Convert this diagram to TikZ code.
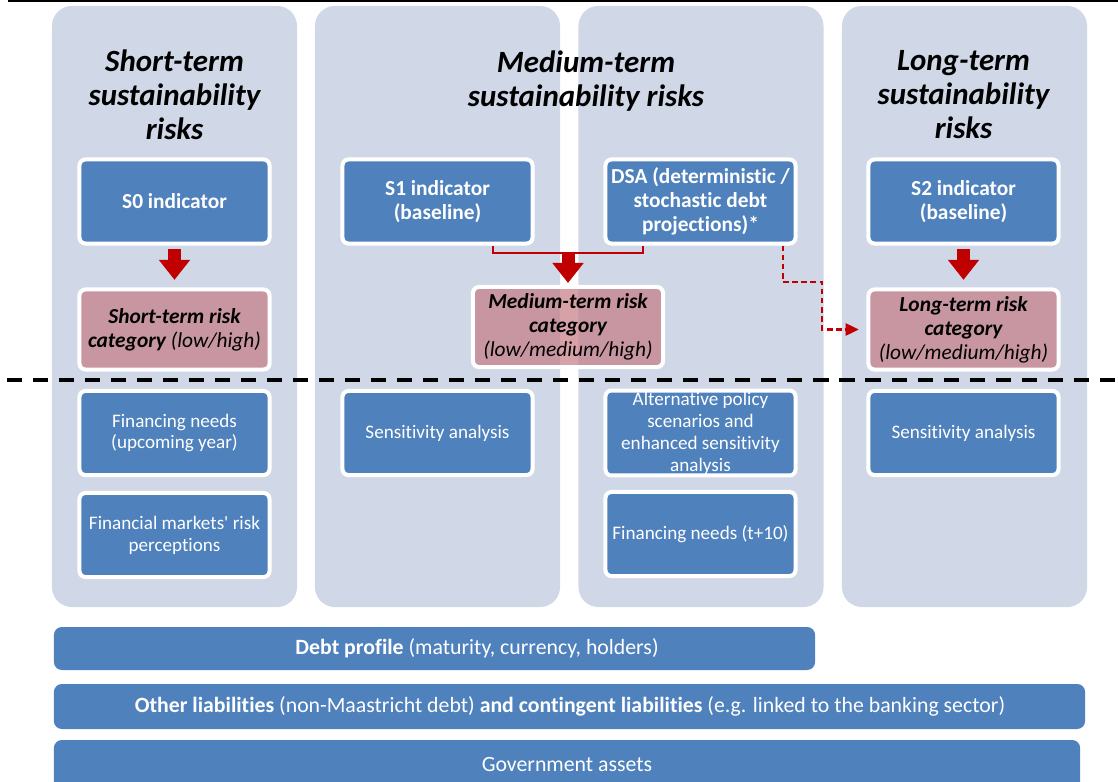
\documentclass[tikz,border=0pt]{standalone}
\usepackage{fontspec}
\setmainfont{Carlito}[Ligatures=NoCommon]
\usetikzlibrary{arrows.meta}
\definecolor{panelfill}{HTML}{D0D8E8}
\definecolor{boxfill}{HTML}{4F81BD}
\definecolor{riskfill}{HTML}{C67B82}
\definecolor{arrowred}{HTML}{C00000}

\begin{document}
\begin{tikzpicture}[x=0.025cm, y=-0.025cm,
  panel/.style={rectangle, rounded corners=0.5cm, fill=panelfill,
                minimum width=6.125cm, minimum height=15.025cm},
  heading/.style={align=center, font=\fontsize{22}{24.2}\selectfont\bfseries\itshape},
  ind/.style={rectangle, rounded corners=0.15cm, draw=white, line width=0.1cm,
              fill=boxfill, minimum width=4.75cm, minimum height=2.1cm,
              align=center, text=white, font=\fontsize{15.2}{17}\selectfont\bfseries},
  risk/.style={rectangle, rounded corners=0.15cm, draw=white, line width=0.1cm,
               fill=riskfill, fill opacity=0.7, text opacity=1,
               minimum width=4.75cm, minimum height=2.0cm, align=center,
               font=\fontsize{15.2}{17}\selectfont\itshape},
  extra/.style={ind, inner sep=1pt, font=\fontsize{13.6}{15.6}\selectfont},
  bar/.style={rectangle, rounded corners=0.2cm, fill=boxfill},
  bartext/.style={text=white, font=\fontsize{15.5}{18}\selectfont},
  bigarrow/.style={draw=arrowred, line width=0.325cm, -{Triangle[length=0.5cm, width=0.75cm]}},
  thinlink/.style={draw=arrowred, line width=1pt},
  dashlink/.style={draw=arrowred, line width=1.8pt, dash pattern=on 4pt off 2.5pt,
                   -{Triangle[length=0.33cm, width=0.3cm]}},
  sepline/.style={line width=2.5pt, dash pattern=on 10.7pt off 7.8pt},
]
\clip (0,0) rectangle (1118,782);
% ---- column panels
\node[panel] (col_short) at (174.5,306.5) {};
\node[panel] (col_mid_a) at (437.5,306.5) {};
\node[panel] (col_mid_b) at (701,306.5) {};
\node[panel] (col_long) at (964.5,306.5) {};
\coordinate (top_l) at (8,1);
\coordinate (top_r) at (1118,1);
\draw[line width=1.5pt] (top_l) -- (top_r);
% ---- headings
\node[heading] (head_short) at (174.5,95) {Short-term\\sustainability\\risks};
\node[heading] (head_mid) at (586,81) {Medium-term\\sustainability risks};
\node[heading] (head_long) at (963.5,95) {Long-term\\sustainability\\risks};
% ---- indicators and risk categories
\node[ind] (s0) at (174.5,201.5) {S0 indicator};
\node[ind] (s1) at (437.5,201.5) {S1 indicator\\(baseline)};
\node[ind] (dsa) at (700.5,201.5) {DSA (deterministic /\\stochastic debt\\projections)*};
\node[ind] (s2) at (963.5,201.5) {S2 indicator\\(baseline)};
\node[risk] (risk_short) at (174.5,329.5) {\textbf{Short-term risk}\\\textbf{category} (low/high)};
\node[risk] (risk_mid) at (568,327) {\textbf{Medium-term risk}\\\textbf{category}\\(low/medium/high)};
\node[risk] (risk_long) at (963.5,329.5) {\textbf{Long-term risk}\\\textbf{category}\\(low/medium/high)};
\draw[bigarrow, shorten <=0.09cm, shorten >=0.19cm] (s0) -- (risk_short);
\draw[bigarrow, shorten <=0.09cm, shorten >=0.19cm] (s2) -- (risk_long);
\coordinate (join) at (568,253);
\draw[thinlink] ([xshift=1.39cm]s1.south) |- (join) -| ([xshift=-1.44cm]dsa.south);
\draw[bigarrow, shorten >=0.05cm] (join) -- (risk_mid);
\coordinate (dsa_bend) at (822,282);
\draw[dashlink, shorten >=0.19cm] ([xshift=2.06cm]dsa.south) |- (dsa_bend) |- (risk_long.west);
% ---- separator
\coordinate (sep_l) at (7,380);
\coordinate (sep_r) at (1118,380);
\draw[sepline] (sep_l) -- (sep_r);
% ---- supplementary analyses
\node[extra] (fin_year) at (174.5,433) {Financing needs\\(upcoming year)};
\node[extra] (markets) at (174.5,535) {Financial markets\textquotesingle{} risk\\perceptions};
\node[extra] (sens_mid) at (437.5,433) {Sensitivity analysis};
\node[extra] (alt_policy) at (700.5,433) {Alternative policy\\scenarios and\\enhanced sensitivity\\analysis};
\node[extra] (fin_ten) at (700.5,534) {Financing needs (t+10)};
\node[extra] (sens_long) at (963.5,433) {Sensitivity analysis};
% ---- cross-cutting bars
\node[bar, minimum width=19.025cm, minimum height=1.075cm] (debt) at (434.5,648.5) {};
\node[bartext] (debt_txt) at (477,648.5) {\textbf{Debt profile} (maturity, currency, holders)};
\node[bar, minimum width=25.775cm, minimum height=1.125cm] (other) at (569.5,706.5) {};
\node[bartext] (other_txt) at (570,706.5) {\textbf{Other liabilities} (non-Maastricht debt) \textbf{and contingent liabilities} (e.g. linked to the banking sector)};
\node[bar, minimum width=25.65cm, minimum height=1.25cm] (assets) at (567,765) {};
\node[bartext] (assets_txt) at (567,765) {Government assets};
\end{tikzpicture}
\end{document}
